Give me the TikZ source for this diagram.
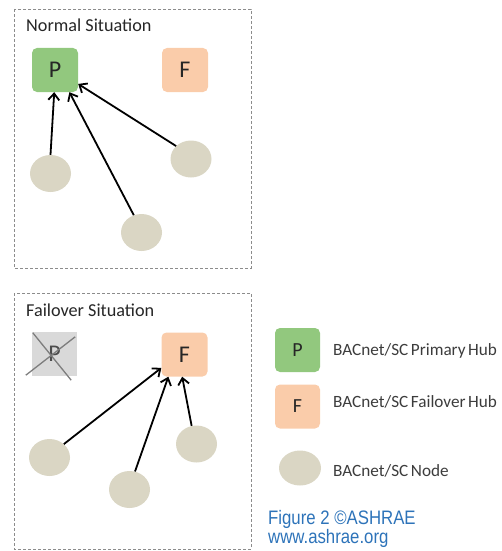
\documentclass[tikz,border=0pt]{standalone}
\usepackage{fontspec}
\setmainfont{Carlito}
\newfontfamily\condfont[FakeStretch=0.86]{Liberation Sans}
\usetikzlibrary{arrows.meta,shapes.geometric}
\definecolor{hubgreen}{RGB}{146,200,126}
\definecolor{hubpeach}{RGB}{250,204,170}
\definecolor{nodebeige}{RGB}{218,214,196}
\definecolor{deadgray}{RGB}{217,217,217}
\definecolor{crossgray}{RGB}{125,125,125}
\definecolor{framegray}{RGB}{140,140,140}
\definecolor{labeltext}{RGB}{60,60,60}
\definecolor{figblue}{RGB}{45,115,185}
\newcommand\legfont{\fontsize{17.2}{17.2}\selectfont\spaceskip=0.15em\relax}
\tikzset{
  hubbox/.style={rectangle, rounded corners=5pt, minimum width=46pt, minimum height=44pt, inner sep=0pt, font=\fontsize{24}{24}\selectfont, text=black!85},
  primary/.style={hubbox, fill=hubgreen},
  failover/.style={hubbox, fill=hubpeach},
  legbox/.style={rectangle, rounded corners=5pt, minimum width=45pt, minimum height=44pt, inner sep=0pt, font=\fontsize{20}{20}\selectfont, text=black!85},
  scnode/.style={ellipse, fill=nodebeige, minimum width=41pt, minimum height=37pt, inner sep=0pt},
  frame/.style={draw=framegray, line width=0.9pt, dash pattern=on 3pt off 2pt},
  title/.style={anchor=base west, inner sep=0pt, font=\fontsize{18.2}{18.2}\selectfont, text=black!85},
  legtext/.style={anchor=base west, inner sep=0pt, font=\legfont, text=labeltext},
  figtext/.style={anchor=base west, inner sep=0pt, font=\condfont\fontsize{19.5}{19.5}\selectfont, text=figblue},
  link/.style={line width=1.8pt, -{Straight Barb[length=6.5pt,width=11pt,line width=1.8pt]}},
  cross/.style={draw=crossgray, line width=1.3pt}
}
\begin{document}
\begin{tikzpicture}[x=1pt,y=-1pt]
\useasboundingbox (0,0) rectangle (501,551);
% ---------- Normal situation ----------
\draw[frame] (14,9) rectangle (251,268);
\node[title] (t1) at (26,32) {Normal Situation};
\node[primary] (P1) at (55,70) {P};
\node[failover] (F1) at (185,70) {F};
\node[scnode] (a1) at (50.5,173.5) {};
\node[scnode] (b1) at (191,159) {};
\node[scnode] (c1) at (141.5,232.5) {};
\draw[link] (a1.90) -- (P1.-92);
\draw[link] (c1.114) -- (P1.-57);
\draw[link] (b1.139) -- (P1.-31);
% ---------- Failover situation ----------
\draw[frame] (14,293) rectangle (251,549);
\node[title] (t2) at (26,316) {Failover Situation};
\node[rectangle, fill=deadgray, minimum width=45pt, minimum height=44pt, inner sep=0pt, font=\fontsize{24}{24}\selectfont, text=black!70] (P2) at (54.5,354) {P};
\draw[cross] ([shift={(-6,-1)}]P2.south west) -- ([shift={(-2,5)}]P2.north east);
\draw[cross] ([shift={(1,1)}]P2.north west) -- ([shift={(-6,4)}]P2.south east);
\node[failover] (F2) at (184.5,354.5) {F};
\node[scnode] (a2) at (49.5,457.5) {};
\node[scnode] (b2) at (129.5,489.5) {};
\node[scnode] (c2) at (196.5,444) {};
\draw[link] (a2.43) -- (F2.210);
\draw[link] (b2.73) -- (F2.234);
\draw[link] (c2.105) -- (F2.264);
% ---------- Legend ----------
\node[legbox, fill=hubgreen] (LP) at (297.5,350) {P};
\node[legtext] (LPt) at (333,355) {BACnet/SC Primary Hub};
\node[legbox, fill=hubpeach] (LF) at (297.5,406.5) {F};
\node[legtext] (LFt) at (333,407) {BACnet/SC Failover Hub};
\node[scnode, minimum width=42pt, minimum height=35pt] (LN) at (300,468) {};
\node[legtext] (LNt) at (333,476) {BACnet/SC Node};
\node[figtext] (fig) at (268,524) {Figure 2 ©ASHRAE};
\node[figtext] (web) at (268,543) {www.ashrae.org};
\end{tikzpicture}
\end{document}
